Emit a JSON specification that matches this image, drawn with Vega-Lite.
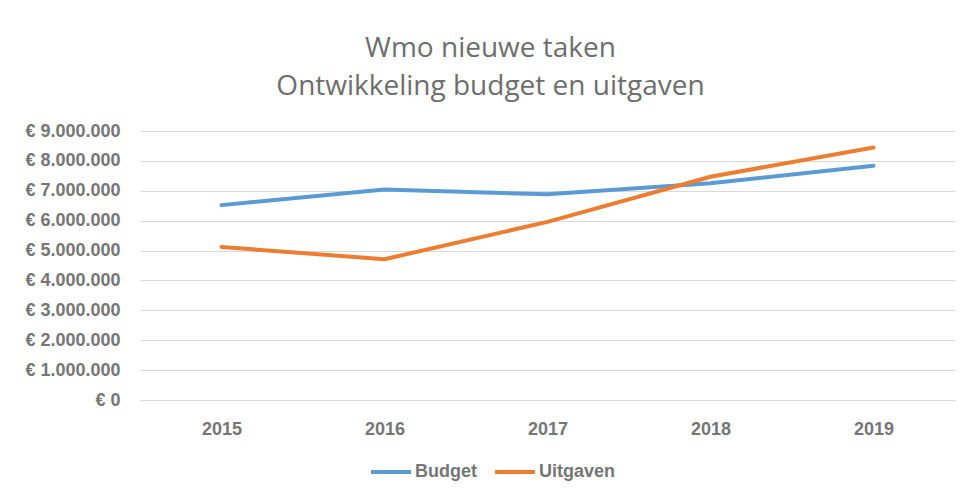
{
  "$schema": "https://vega.github.io/schema/vega-lite/v6.json",
  "autosize": {"type": "none"},
  "width": 815,
  "height": 269,
  "padding": {"left": 140, "top": 131, "right": 8, "bottom": 95},
  "background": "white",
  "title": {
    "text": ["Wmo nieuwe taken", "Ontwikkeling budget en uitgaven"],
    "anchor": "middle",
    "frame": "group",
    "dx": -57,
    "offset": -7,
    "baseline": "bottom",
    "lineHeight": 38,
    "font": "Open Sans",
    "fontSize": 28,
    "fontWeight": "normal",
    "color": "#6e6e6e"
  },
  "data": {
    "values": [
      {"jaar": "2015", "reeks": "Budget", "bedrag": 6520000},
      {"jaar": "2016", "reeks": "Budget", "bedrag": 7040000},
      {"jaar": "2017", "reeks": "Budget", "bedrag": 6880000},
      {"jaar": "2018", "reeks": "Budget", "bedrag": 7250000},
      {"jaar": "2019", "reeks": "Budget", "bedrag": 7840000},
      {"jaar": "2015", "reeks": "Uitgaven", "bedrag": 5120000},
      {"jaar": "2016", "reeks": "Uitgaven", "bedrag": 4710000},
      {"jaar": "2017", "reeks": "Uitgaven", "bedrag": 5960000},
      {"jaar": "2018", "reeks": "Uitgaven", "bedrag": 7470000},
      {"jaar": "2019", "reeks": "Uitgaven", "bedrag": 8450000}
    ]
  },
  "mark": {"type": "line", "strokeWidth": 4, "strokeCap": "round", "strokeJoin": "round"},
  "encoding": {
    "x": {
      "field": "jaar",
      "type": "ordinal",
      "scale": {"paddingInner": 0, "paddingOuter": 0.5},
      "axis": {
        "title": null,
        "labelAngle": 0,
        "ticks": false,
        "domain": true,
        "domainColor": "#d9d9d9",
        "domainWidth": 1,
        "grid": false,
        "labelPadding": 20,
        "labelFont": "Liberation Sans",
        "labelFontSize": 18,
        "labelFontWeight": "bold",
        "labelColor": "#767676"
      }
    },
    "y": {
      "field": "bedrag",
      "type": "quantitative",
      "scale": {"domain": [0, 9000000], "nice": false},
      "axis": {
        "title": null,
        "values": [0, 1000000, 2000000, 3000000, 4000000, 5000000, 6000000, 7000000, 8000000, 9000000],
        "labelExpr": "'€ ' + replace(format(datum.value, ',d'), /,/g, '.')",
        "ticks": false,
        "domain": false,
        "grid": true,
        "gridColor": "#d9d9d9",
        "gridWidth": 1,
        "labelPadding": 20,
        "labelFont": "Liberation Sans",
        "labelFontSize": 18,
        "labelFontWeight": "bold",
        "labelColor": "#767676"
      }
    },
    "color": {
      "field": "reeks",
      "type": "nominal",
      "scale": {"domain": ["Budget", "Uitgaven"], "range": ["#5b9bd5", "#ed7d31"]},
      "legend": {
        "title": null,
        "orient": "none",
        "direction": "horizontal",
        "legendX": 229,
        "legendY": 319,
        "symbolType": "stroke",
        "symbolSize": 1600,
        "symbolStrokeWidth": 4,
        "labelOffset": 2,
        "columnPadding": 10,
        "labelFont": "Liberation Sans",
        "labelFontSize": 18,
        "labelFontWeight": "bold",
        "labelColor": "#767676"
      }
    }
  },
  "config": {"view": {"stroke": null}}
}
